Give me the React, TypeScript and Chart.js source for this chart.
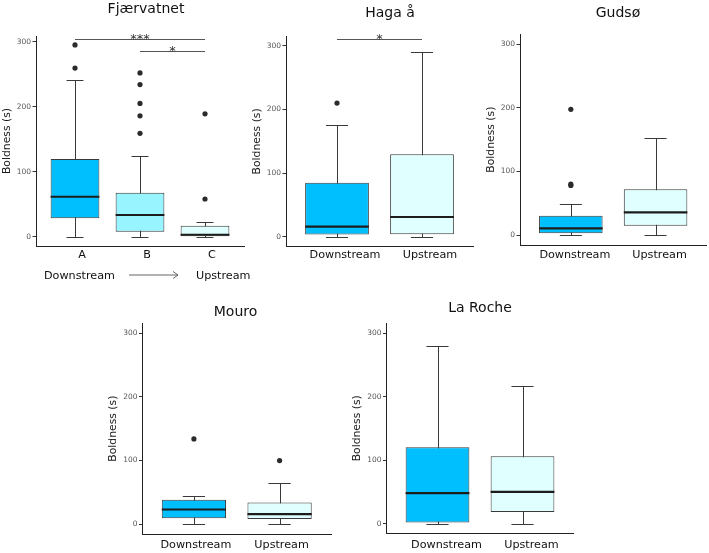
import React, { useEffect, useRef } from 'react';
import { Chart, registerables } from 'chart.js';

Chart.register(...registerables);

// Group labels on the x axes
const siteLabels = ['A', 'B', 'C'];
const reachLabels = ['Downstream', 'Upstream'];

// Box statistics per group: [lower whisker, Q1, median, Q3, upper whisker] (s)
const fjaervatnetStats = [
  [0, 28.3, 61.5, 119.5, 241],
  [0, 7.7, 33.4, 67.7, 123.5],
  [0, 0, 3, 17, 22],
];
const fjaervatnetOutliers = [[295, 259.5], [252, 234, 205, 186, 159], [189, 58]];

const hagaStats = [
  [0, 3.4, 16, 85, 176],
  [0, 3.7, 31, 129.5, 291],
];
const hagaOutliers = [[210], []];

const gudsoStats = [
  [0, 2.6, 10.5, 30.4, 49.5],
  [0, 14.5, 35.7, 72, 153],
];
const gudsoOutliers = [[197.7, 80, 78], []];

const mouroStats = [
  [0, 9.4, 23, 38.3, 44.6],
  [0, 7.9, 15.7, 34, 64],
];
const mouroOutliers = [[134], [100]];

const laRocheStats = [
  [0, 2, 48.2, 120.6, 280.5],
  [0, 18.4, 50.3, 106.5, 216.6],
];
const laRocheOutliers = [[], []];

const yTicks = [0, 100, 200, 300];

// Significance brackets: [from group, to group, height (s), stars]
const fjaervatnetBrackets = [
  [1, 3, 304, '***'],
  [2, 3, 285.7, '*'],
];
const hagaBrackets = [[1, 2, 311, '*']];

const FILL_DOWN = '#00BFFF';
const FILL_MID = '#98F5FF';
const FILL_UP = '#E0FFFF';
const FONT = '"DejaVu Sans", Verdana, sans-serif';

// Page placement of each panel: canvas box, plot area, y range, title spot
const panels = [
  {
    title: 'Fjærvatnet', labels: siteLabels, stats: fjaervatnetStats, outliers: fjaervatnetOutliers,
    fills: [FILL_DOWN, FILL_MID, FILL_UP], brackets: fjaervatnetBrackets, flowNote: true,
    frame: {
      canvas: { x: 0, y: 0, w: 256, h: 290 }, area: { l: 36, t: 36, r: 244, b: 246 },
      yMin: -14.3, yMax: 308.8, titleX: 146, titleY: 12.5, labelOffset: 7, labelPad: 2.5,
    },
  },
  {
    title: 'Haga å', labels: reachLabels, stats: hagaStats, outliers: hagaOutliers,
    fills: [FILL_DOWN, FILL_UP], brackets: hagaBrackets, flowNote: false,
    frame: {
      canvas: { x: 250, y: 0, w: 230, h: 290 }, area: { l: 286, t: 36, r: 473, b: 246.7 },
      yMin: -15.7, yMax: 315.5, titleX: 390, titleY: 17, labelOffset: 8, labelPad: 2,
    },
  },
  {
    title: 'Gudsø', labels: reachLabels, stats: gudsoStats, outliers: gudsoOutliers,
    fills: [FILL_DOWN, FILL_UP], brackets: [], flowNote: false,
    frame: {
      canvas: { x: 484, y: 0, w: 225, h: 290 }, area: { l: 520, t: 34.3, r: 707, b: 245 },
      yMin: -15.7, yMax: 315.7, titleX: 618, titleY: 16.5, labelOffset: 4, labelPad: 3,
    },
  },
  {
    title: 'Mouro', labels: reachLabels, stats: mouroStats, outliers: mouroOutliers,
    fills: [FILL_DOWN, FILL_UP], brackets: [], flowNote: false,
    frame: {
      canvas: { x: 106, y: 290, w: 236, h: 263 }, area: { l: 142.5, t: 323.3, r: 331, b: 534 },
      yMin: -15.5, yMax: 315.8, titleX: 235.5, titleY: 316, labelOffset: 2, labelPad: 4.5,
    },
  },
  {
    title: 'La Roche', labels: reachLabels, stats: laRocheStats, outliers: laRocheOutliers,
    fills: [FILL_DOWN, FILL_UP], brackets: [], flowNote: false,
    frame: {
      canvas: { x: 350, y: 290, w: 240, h: 263 }, area: { l: 386.5, t: 323.3, r: 573.5, b: 533.3 },
      yMin: -15, yMax: 315.7, titleX: 480, titleY: 311.5, labelOffset: 9, labelPad: 5,
    },
  },
];

const CAP_HALF = 0.13; // half width of whisker caps, in group units

function makeExtras(p: any) {
  const f = p.frame;
  return {
    id: 'boxExtras',
    beforeDatasetsDraw(chart: any) {
      const { ctx } = chart;
      const x = chart.scales.x;
      const y = chart.scales.y;
      ctx.save();
      ctx.strokeStyle = '#3a3a3a';
      ctx.lineWidth = 1;
      p.stats.forEach((s: number[], i: number) => {
        const cx = Math.round(x.getPixelForValue(i + 1)) + 0.5;
        const x0 = x.getPixelForValue(i + 1 - CAP_HALF);
        const x1 = x.getPixelForValue(i + 1 + CAP_HALF);
        const lo = Math.round(y.getPixelForValue(s[0])) + 0.5;
        const hi = Math.round(y.getPixelForValue(s[4])) + 0.5;
        ctx.beginPath();
        ctx.moveTo(cx, lo);
        ctx.lineTo(cx, hi);
        ctx.moveTo(x0, lo);
        ctx.lineTo(x1, lo);
        ctx.moveTo(x0, hi);
        ctx.lineTo(x1, hi);
        ctx.stroke();
      });
      ctx.restore();
    },
    afterDatasetsDraw(chart: any) {
      const { ctx } = chart;
      const y = chart.scales.y;
      const meta = chart.getDatasetMeta(1);
      ctx.save();
      ctx.strokeStyle = '#1c1c1c';
      ctx.lineWidth = 2.2;
      meta.data.forEach((bar: any, i: number) => {
        const { x: bx, width } = bar.getProps(['x', 'width'], true);
        const my = y.getPixelForValue(p.stats[i][2]);
        ctx.beginPath();
        ctx.moveTo(bx - width / 2, my);
        ctx.lineTo(bx + width / 2, my);
        ctx.stroke();
      });
      ctx.restore();
    },
    afterDraw(chart: any) {
      const { ctx } = chart;
      const x = chart.scales.x;
      const y = chart.scales.y;
      const ox = f.canvas.x;
      const oy = f.canvas.y;
      ctx.save();
      // panel title
      ctx.fillStyle = '#111';
      ctx.font = `14px ${FONT}`;
      ctx.textAlign = 'center';
      ctx.textBaseline = 'alphabetic';
      ctx.fillText(p.title, f.titleX - ox, f.titleY - oy);

      // significance brackets
      p.brackets.forEach((b: any[]) => {
        const xa = x.getPixelForValue(b[0]);
        const xb = x.getPixelForValue(b[1]);
        const by = Math.round(y.getPixelForValue(b[2])) + 0.5;
        ctx.strokeStyle = '#555';
        ctx.lineWidth = 1;
        ctx.beginPath();
        ctx.moveTo(xa, by);
        ctx.lineTo(xb, by);
        ctx.stroke();
        ctx.fillStyle = '#333';
        ctx.font = `13px ${FONT}`;
        ctx.textAlign = 'center';
        ctx.fillText(b[3], (xa + xb) / 2, by + 3.5);
      });

      // flow direction note under the site axis
      if (p.flowNote) {
        ctx.fillStyle = '#111';
        ctx.font = `11.2px ${FONT}`;
        ctx.textAlign = 'left';
        ctx.fillText('Downstream', 44 - ox, 279 - oy);
        ctx.fillText('Upstream', 196 - ox, 279 - oy);
        ctx.strokeStyle = '#555';
        ctx.lineWidth = 0.9;
        ctx.beginPath();
        ctx.moveTo(129 - ox, 275 - oy);
        ctx.lineTo(178 - ox, 275 - oy);
        ctx.moveTo(173 - ox, 271.5 - oy);
        ctx.lineTo(178 - ox, 275 - oy);
        ctx.lineTo(173 - ox, 278.5 - oy);
        ctx.stroke();
      }
      ctx.restore();
    },
  };
}

function buildConfig(p: any) {
  const f = p.frame;
  const n = p.labels.length;
  const padTop = f.area.t - f.canvas.y;
  const padRight = f.canvas.x + f.canvas.w - f.area.r;
  const yWidth = f.area.l - f.canvas.x;
  const xHeight = f.canvas.y + f.canvas.h - f.area.b;
  const outlierPoints = p.outliers.flatMap((vals: number[], i: number) =>
    vals.map((v) => ({ x: i + 1, y: v }))
  );
  return {
    type: 'bar',
    data: {
      datasets: [
        {
          type: 'scatter',
          data: outlierPoints,
          backgroundColor: '#2b2b2b',
          pointBackgroundColor: '#2b2b2b',
          pointBorderWidth: 0,
          pointRadius: 2.6,
          pointHoverRadius: 2.6,
        },
        {
          type: 'bar',
          data: p.stats.map((s: number[], i: number) => ({ x: i + 1, y: [s[1], s[3]] })),
          backgroundColor: p.fills,
          borderColor: '#3a3a3a',
          borderWidth: 1,
          borderSkipped: false,
          barPercentage: 0.75,
          categoryPercentage: 1,
        },
      ],
    },
    options: {
      responsive: false,
      animation: false,
      events: [],
      layout: { padding: { left: 0, top: padTop, right: padRight, bottom: 0 } },
      plugins: {
        legend: { display: false },
        title: { display: false },
        tooltip: { enabled: false },
      },
      scales: {
        x: {
          type: 'linear',
          min: 0.4,
          max: n + 0.6,
          offset: false,
          grid: { display: false, drawTicks: false, offset: false },
          border: { display: true, color: '#222', width: 1 },
          afterBuildTicks: (s: any) => {
            s.ticks = p.labels.map((_: string, i: number) => ({ value: i + 1 }));
          },
          afterFit: (s: any) => {
            s.height = xHeight;
          },
          ticks: {
            autoSkip: false,
            maxRotation: 0,
            minRotation: 0,
            padding: f.labelPad,
            labelOffset: f.labelOffset,
            color: '#111',
            font: { family: FONT, size: 11.2 },
            callback: (v: number) => p.labels[Math.round(v) - 1] ?? '',
          },
        },
        y: {
          type: 'linear',
          min: f.yMin,
          max: f.yMax,
          grid: { display: true, drawOnChartArea: false, drawTicks: true, tickLength: 3.5, color: '#333' },
          border: { display: true, color: '#222', width: 1 },
          afterBuildTicks: (s: any) => {
            s.ticks = yTicks.map((v) => ({ value: v }));
          },
          afterFit: (s: any) => {
            s.width = yWidth;
          },
          ticks: { padding: 1.5, color: '#555', font: { family: FONT, size: 7.5 } },
          title: {
            display: true,
            text: 'Boldness (s)',
            color: '#1a1a1a',
            font: { family: FONT, size: 10.8 },
            padding: { top: 0.9, bottom: 0 },
          },
        },
      },
    },
    plugins: [makeExtras(p)],
  };
}

function BoxPanel({ panel }: { panel: any }) {
  const ref = useRef<HTMLCanvasElement>(null);
  useEffect(() => {
    const canvas = ref.current;
    if (!canvas) return;
    const chart = new Chart(canvas, buildConfig(panel) as any);
    return () => chart.destroy();
  }, [panel]);
  const c = panel.frame.canvas;
  return (
    <canvas
      ref={ref}
      width={c.w}
      height={c.h}
      style={{ position: 'absolute', left: c.x, top: c.y, width: c.w, height: c.h }}
    />
  );
}

export default function App() {
  return (
    <div style={{ position: 'absolute', left: 0, top: 0, width: 709, height: 553, background: '#fff' }}>
      {panels.map((p) => (
        <BoxPanel key={p.title} panel={p} />
      ))}
    </div>
  );
}
